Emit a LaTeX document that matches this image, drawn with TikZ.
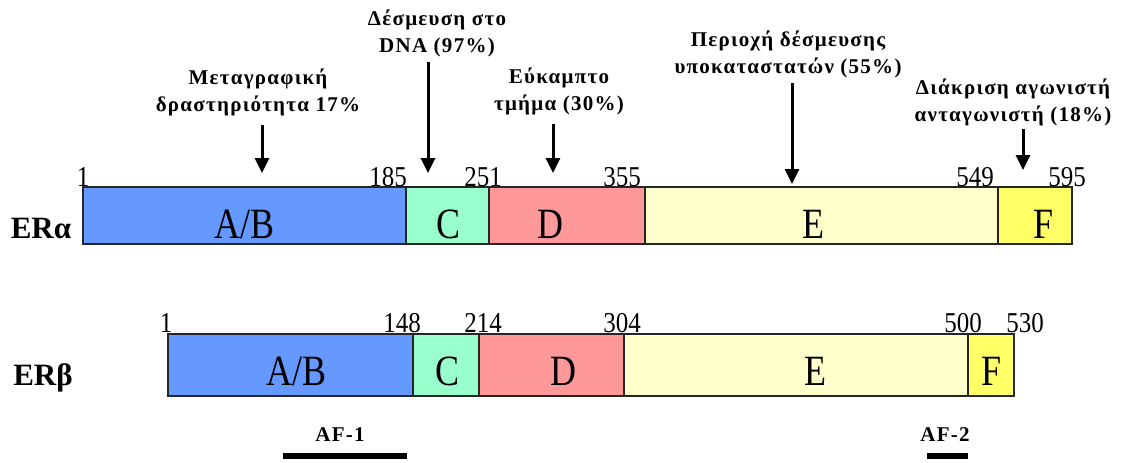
\documentclass[tikz,border=0pt]{standalone}
\usepackage{fontspec}
\setmainfont{Liberation Serif}
\newfontfamily\grb{Liberation Serif}[LetterSpace=6]
\usetikzlibrary{arrows.meta}
\definecolor{cAB}{HTML}{6699FF}
\definecolor{cC}{HTML}{99FFCC}
\definecolor{cD}{HTML}{FF9999}
\definecolor{cE}{HTML}{FFFFCC}
\definecolor{cF}{HTML}{FFFF66}
\tikzset{
  seg/.style={draw=black!85, line width=0.75pt},
  segtxt/.style={inner sep=0, font=\fontsize{18}{18}\selectfont},
  num/.style={inner sep=0, anchor=base, font=\fontsize{12.5}{12.5}\selectfont},
  lbl/.style={inner sep=0, align=center, font=\grb\bfseries\fontsize{10.5}{13.5}\selectfont},
  arr/.style={line width=1.5pt, -{Triangle[length=7.5pt,width=7pt]}},
  erlbl/.style={inner sep=0, font=\bfseries\fontsize{15.5}{15.5}\selectfont},
  aflbl/.style={inner sep=0, font=\grb\bfseries\fontsize{10.5}{10.5}\selectfont},
}
\begin{document}
\begin{tikzpicture}[x=0.5pt,y=-0.5pt]
\useasboundingbox[fill=white] (0,0) rectangle (1122,462);
% ER alpha bar
\filldraw[seg, fill=cAB] (83,187) rectangle (406,244);
\filldraw[seg, fill=cC] (406,187) rectangle (489,244);
\filldraw[seg, fill=cD] (489,187) rectangle (645,244);
\filldraw[seg, fill=cE] (645,187) rectangle (998,244);
\filldraw[seg, fill=cF] (998,187) rectangle (1072,244);
\node[segtxt] (aAB) at (245,224) {\scalebox{1}[1.2]{A/B}};
\node[segtxt] (aC) at (448,224) {\scalebox{1}[1.2]{C}};
\node[segtxt] (aD) at (550,224) {\scalebox{1}[1.2]{D}};
\node[segtxt] (aE) at (813,224) {\scalebox{1}[1.2]{E}};
\node[segtxt] (aF) at (1043,224) {\scalebox{1}[1.2]{F}};
\node[erlbl] (era) at (41,228) {ERα};
\node[num] (an1) at (83,186) {\scalebox{1}[1.15]{1}};
\node[num] (an2) at (388,186) {\scalebox{1}[1.15]{185}};
\node[num] (an3) at (483,186) {\scalebox{1}[1.15]{251}};
\node[num] (an4) at (622,186) {\scalebox{1}[1.15]{355}};
\node[num] (an5) at (975,186) {\scalebox{1}[1.15]{549}};
\node[num] (an6) at (1067,186) {\scalebox{1}[1.15]{595}};
% ER beta bar
\filldraw[seg, fill=cAB] (168,334) rectangle (413,396);
\filldraw[seg, fill=cC] (413,334) rectangle (479,396);
\filldraw[seg, fill=cD] (479,334) rectangle (624,396);
\filldraw[seg, fill=cE] (624,334) rectangle (968,396);
\filldraw[seg, fill=cF] (968,334) rectangle (1014,396);
\node[segtxt] (bAB) at (297,371) {\scalebox{1}[1.2]{A/B}};
\node[segtxt] (bC) at (447,371) {\scalebox{1}[1.2]{C}};
\node[segtxt] (bD) at (563,371) {\scalebox{1}[1.2]{D}};
\node[segtxt] (bE) at (815,371) {\scalebox{1}[1.2]{E}};
\node[segtxt] (bF) at (991,371) {\scalebox{1}[1.2]{F}};
\node[erlbl] (erb) at (43,378) {ERβ};
\node[num] (bn1) at (166,332) {\scalebox{1}[1.15]{1}};
\node[num] (bn2) at (402,332) {\scalebox{1}[1.15]{148}};
\node[num] (bn3) at (483,332) {\scalebox{1}[1.15]{214}};
\node[num] (bn4) at (622,332) {\scalebox{1}[1.15]{304}};
\node[num] (bn5) at (963,332) {\scalebox{1}[1.15]{500}};
\node[num] (bn6) at (1025,332) {\scalebox{1}[1.15]{530}};
% labels
\node[lbl] (l1) at (258,92) {Μεταγραφική\\δραστηριότητα 17\%};
\node[lbl] (l2) at (437,33.5) {Δέσμευση στο\\DNA (97\%)};
\node[lbl] (l3) at (559,91.5) {Εύκαμπτο\\τμήμα (30\%)};
\node[lbl] (l4) at (788,54) {Περιοχή δέσμευσης\\υποκαταστατών (55\%)};
\node[lbl] (l5) at (1013,102) {Διάκριση αγωνιστή\\ανταγωνιστή (18\%)};
% arrows
\coordinate (s1) at (262,125); \coordinate (e1) at (262,173);
\coordinate (s2) at (428,62);  \coordinate (e2) at (428,173);
\coordinate (s3) at (553,124); \coordinate (e3) at (553,173);
\coordinate (s4) at (792,83);  \coordinate (e4) at (792,184);
\coordinate (s5) at (1023,129); \coordinate (e5) at (1023,170);
\draw[arr] (s1) -- (e1);
\draw[arr] (s2) -- (e2);
\draw[arr] (s3) -- (e3);
\draw[arr] (s4) -- (e4);
\draw[arr] (s5) -- (e5);
% AF regions
\node[aflbl] (af1) at (340,435) {AF-1};
\node[aflbl] (af2) at (945,435) {AF-2};
\fill[black] (283,453) rectangle (407,459);
\fill[black] (927,453) rectangle (968,459);
\end{tikzpicture}
\end{document}
